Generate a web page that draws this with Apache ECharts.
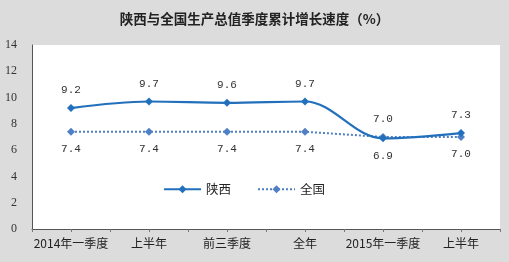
<!DOCTYPE html>
<html><head><meta charset="utf-8">
<script src="https://cdn.jsdelivr.net/npm/echarts@6/dist/echarts.min.js"></script>
<style>html,body{margin:0;padding:0;background:#dcdcdc;}#c{width:509px;height:262px;}</style>
</head><body><div id="c"></div>
<script>
var categories = ['2014年一季度','上半年','前三季度','全年','2015年一季度','上半年'];
var shaanxi = [9.2, 9.7, 9.6, 9.7, 6.9, 7.3];
var national = [7.4, 7.4, 7.4, 7.4, 7.0, 7.0];
var shaanxiLabelPos = ['top','top','top','top','bottom','top'];
var nationalLabelPos = ['bottom','bottom','bottom','bottom','top','bottom'];
var yTicks = [0,2,4,6,8,10,12,14];
var title = '陕西与全国生产总值季度累计增长速度（%）';

var labelFont = {fontFamily:'Liberation Mono', fontSize:11, color:'#333', distance:8, formatter:function(p){return p.value.toFixed(1);}};
function mk(vals, pos){
  return vals.map(function(v,i){return {value:v, label:{position:pos[i]}};});
}
var tickCats = [];
for (var i=0;i<categories.length*2;i++) tickCats.push('');

var chart = echarts.init(document.getElementById('c'));
chart.setOption({
  backgroundColor:'#dcdcdc',
  animation:false,
  title:{text:title, left:'center', top:7, textStyle:{fontFamily:'Noto Sans CJK SC', fontSize:13.5, fontWeight:'bold', color:'#222'}},
  grid:{left:32, right:9, top:45, bottom:33, show:true, backgroundColor:'#fff', borderWidth:0},
  legend:{left:158, top:178, itemWidth:37, itemHeight:10, itemGap:26,
    textStyle:{fontFamily:'Noto Sans CJK SC', fontSize:12.5, color:'#222'},
    data:[{name:'陕西'},{name:'全国'}]},
  xAxis:[{type:'category', data:categories, boundaryGap:true,
    axisLine:{lineStyle:{color:'#555', width:1}},
    axisTick:{show:true, length:3, lineStyle:{color:'#777'}},
    axisLabel:{fontFamily:'Noto Sans CJK SC', fontSize:12, color:'#222', margin:8, interval:0}},
   {type:'category', data:tickCats, position:'bottom', boundaryGap:true,
    axisLine:{show:false}, axisTick:{show:true, length:3, interval:0, lineStyle:{color:'#777'}}, axisLabel:{show:false}}],
  yAxis:{type:'value', min:yTicks[0], max:yTicks[yTicks.length-1], interval:2,
    axisLine:{show:true, lineStyle:{color:'#555'}}, axisTick:{show:false}, splitLine:{show:false},
    axisLabel:{fontFamily:'Liberation Serif', fontSize:12, color:'#333', margin:15}},
  series:[
    {name:'陕西', type:'line', smooth:0.35, data:mk(shaanxi, shaanxiLabelPos),
     symbol:'diamond', symbolSize:8, itemStyle:{color:'#2270bb'}, lineStyle:{color:'#2270bb', width:2.2},
     label:Object.assign({show:true}, labelFont), z:3},
    {name:'全国', type:'line', data:mk(national, nationalLabelPos),
     symbol:'diamond', symbolSize:8, itemStyle:{color:'#4f7fc4'}, lineStyle:{color:'#4f7fc4', width:2, type:[2,2]},
     label:Object.assign({show:true}, labelFont), z:2}
  ]
});
</script></body></html>
